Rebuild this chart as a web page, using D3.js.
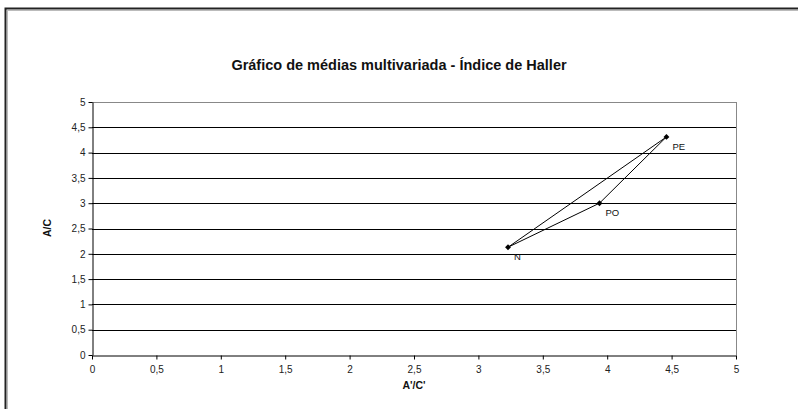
<!DOCTYPE html>
<html><head><meta charset="utf-8">
<script src="https://cdn.jsdelivr.net/npm/d3@7"></script>
<style>body{margin:0;background:#fff;}svg{display:block;font-family:"Liberation Sans",Arial,sans-serif;}</style>
</head><body>
<svg id="c" width="798" height="409"></svg>
<script>
const labels = ["N", "PO", "PE"];
const xValues = [3.23, 3.94, 4.46];
const yValues = [2.13, 3.00, 4.31];
const xTicks = [0,0.5,1,1.5,2,2.5,3,3.5,4,4.5,5];
const yTicks = [0,0.5,1,1.5,2,2.5,3,3.5,4,4.5,5];
const title = "Gráfico de médias multivariada - Índice de Haller";
const xTitle = "A'/C'";
const yTitle = "A/C";

const svg = d3.select("#c");
const L = 92, R = 736, T = 102, B = 355;
const x = d3.scaleLinear().domain([0,5]).range([L,R]);
const y = d3.scaleLinear().domain([0,5]).range([B,T]);
const fmt = d => String(d).replace(".", ",");

// outer frame
svg.append("rect").attr("x",5.5).attr("y",8.5).attr("width",810).attr("height",420)
  .attr("fill","none").attr("stroke","#222").attr("stroke-width",2);
svg.append("rect").attr("x",7.5).attr("y",10.5).attr("width",810).attr("height",420)
  .attr("fill","none").attr("stroke","#bbb").attr("stroke-width",1);

// gridlines
svg.append("g").selectAll("line").data(yTicks.filter(d=>d>0)).join("line")
  .attr("x1",L).attr("x2",R).attr("y1",d=>Math.round(y(d))+0.5).attr("y2",d=>Math.round(y(d))+0.5)
  .attr("stroke",d=>d===5?"#888":"#000").attr("stroke-width",1);
// right border
svg.append("line").attr("x1",R+0.5).attr("x2",R+0.5).attr("y1",T).attr("y2",B)
  .attr("stroke","#888");

// axes
const gx = svg.append("g").attr("transform",`translate(0,${B+0.5})`)
  .call(d3.axisBottom(x).tickValues(xTicks).tickFormat(fmt).tickSize(4).tickSizeOuter(0));
const gy = svg.append("g").attr("transform",`translate(${L+0.5},0)`)
  .call(d3.axisLeft(y).tickValues(yTicks).tickFormat(fmt).tickSize(4).tickSizeOuter(0));
[gx,gy].forEach(g=>{
  g.select(".domain").attr("stroke","#000");
  g.selectAll(".tick line").attr("stroke","#000");
  g.selectAll("text").attr("fill","#222").style("font-size","10px").style("font-family","'Liberation Sans',Arial,sans-serif");
});
gx.selectAll("text").attr("dy","1.05em");
gy.selectAll("text").attr("x",-7);

// title and axis titles
svg.append("text").attr("x",399).attr("y",70).attr("text-anchor","middle")
  .style("font-size","14.5px").style("font-weight","bold").attr("fill","#111").text(title);
svg.append("text").attr("x",414).attr("y",389).attr("text-anchor","middle")
  .style("font-size","10.5px").style("font-weight","bold").attr("fill","#111").text(xTitle);
svg.append("text").attr("transform","translate(51,228) rotate(-90)").attr("text-anchor","middle")
  .style("font-size","10.5px").style("font-weight","bold").attr("fill","#111").text(yTitle);

// data
const pts = labels.map((l,i)=>({l, x:xValues[i], y:yValues[i]}));
const line = d3.line().x(d=>x(d.x)).y(d=>y(d.y)).curve(d3.curveLinearClosed);
svg.append("path").attr("d",line(pts)).attr("fill","none").attr("stroke","#000").attr("stroke-width",1);
svg.append("g").selectAll("path").data(pts).join("path")
  .attr("d",d3.symbol().type(d3.symbolDiamond2).size(22))
  .attr("transform",d=>`translate(${x(d.x)},${y(d.y)})`).attr("fill","#000");
svg.append("g").selectAll("text").data(pts).join("text")
  .attr("x",d=>x(d.x)+6).attr("y",d=>y(d.y)+13)
  .style("font-size","9.5px").attr("fill","#111").text(d=>d.l);
</script>
</body></html>
